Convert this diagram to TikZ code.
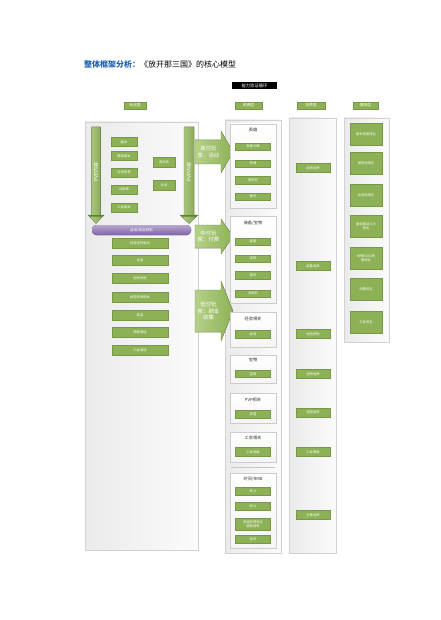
\documentclass[tikz,border=0pt]{standalone}
\usepackage{fontspec}
\setmainfont{Noto Sans CJK SC}
\usetikzlibrary{shadows}
\definecolor{gr}{HTML}{8DB255}
\definecolor{grd}{HTML}{5F7F35}
\definecolor{grl}{HTML}{B5D18A}
\definecolor{tblue}{HTML}{1F64B4}
\definecolor{purp}{HTML}{7E63A8}
\begin{document}
\begin{tikzpicture}[x=1pt,y=-1pt,
  gbox/.style={fill=gr, draw=gr!85!black, line width=0.2pt, text=white,
    font=\fontsize{3.3}{4}\selectfont, inner sep=0pt, align=center,
    general shadow={fill=black!50, shadow yshift=-0.9pt}},
  tag/.style={gbox, minimum height=7pt, font=\fontsize{3.8}{4.5}\selectfont},
  panel/.style={draw=gray!35, line width=0.3pt, left color=gray!16, right color=gray!3, inner sep=0pt},
  subpanel/.style={draw=gray!40, line width=0.3pt, top color=white, bottom color=gray!8, inner sep=0pt,
    general shadow={fill=black!22, shadow xshift=0.8pt, shadow yshift=-0.8pt}},
  phead/.style={font=\fontsize{4.2}{5}\selectfont, text=black!80, inner sep=0pt},
  bigarrow/.style={left color=grl, right color=gr, draw=gr!80!black, line width=0.2pt},
  atext/.style={text=white, font=\fontsize{5.4}{6.6}\selectfont, align=center, inner sep=0pt},
]
\useasboundingbox (0,0) rectangle (440,620);
\fill[white] (0,0) rectangle (440,620);

% title
\node[anchor=west, inner sep=0pt, font=\fontsize{8}{9}\selectfont] (title) at (84,64)
  {\textcolor{tblue}{\bfseries 整体框架分析：}《放开那三国》的核心模型};
\node[fill=black, text=white, inner sep=0pt, minimum width=45pt, minimum height=7pt,
  font=\fontsize{4.3}{5}\selectfont] (loop) at (254.5,85.5) {能力验证循环};

% column headers
\node[tag, minimum width=22pt] (h1) at (135,105.5) {玩法层};
\node[tag, minimum width=27pt] (h2) at (248.5,105.5) {资源层};
\node[tag, minimum width=28pt] (h3) at (311,105.5) {培养层};
\node[tag, minimum width=25pt] (h4) at (365.5,105.5) {展现层};

% panels
\node[panel, minimum width=113pt, minimum height=428pt] (play) at (141.5,336) {};
\node[panel, minimum width=56pt, minimum height=433pt] (res) at (253,336.5) {};
\node[panel, minimum width=47pt, minimum height=435pt] (cult) at (312.5,335.5) {};
\node[panel, minimum width=45pt, minimum height=224pt] (disp) at (366.5,230) {};

% vertical arrows in play layer
\fill[left color=grl, right color=gr!90!black, draw=gr!80!black, line width=0.2pt]
  (91.5,127) -- (100.5,127) -- (100.5,215) -- (104,215) -- (96,223.5) -- (88,215) -- (91.5,215) -- cycle;
\fill[grd] (88,215) -- (104,215) -- (102.5,216.5) -- (89.5,216.5) -- cycle;
\node[atext, rotate=90, font=\fontsize{5}{6}\selectfont] (pve) at (96,172) {PVE内容};
\fill[left color=grl, right color=gr!90!black, draw=gr!80!black, line width=0.2pt]
  (184,127) -- (194,127) -- (194,215) -- (198,215) -- (189,223.5) -- (180,215) -- (184,215) -- cycle;
\fill[grd] (180,215) -- (198,215) -- (196.5,216.5) -- (181.5,216.5) -- cycle;
\node[atext, rotate=90, font=\fontsize{5}{6}\selectfont] (pvp) at (189,172) {PVP内容};

% play boxes
\node[gbox, minimum width=26pt, minimum height=9pt] (a1) at (124,142) {副本};
\node[gbox, minimum width=26pt, minimum height=9pt] (a2) at (124,156) {精英副本};
\node[gbox, minimum width=26pt, minimum height=9pt] (a3) at (124,172.5) {过关斩将};
\node[gbox, minimum width=26pt, minimum height=9pt] (a4) at (124,189.5) {试炼塔};
\node[gbox, minimum width=26pt, minimum height=9pt] (a5) at (124,207.5) {工会副本};
\node[gbox, minimum width=22pt, minimum height=10pt] (b1) at (164,162.5) {竞技场};
\node[gbox, minimum width=22pt, minimum height=10pt] (b2) at (164,185.5) {比武};

% purple banner
\fill[top color=purp!55!white, bottom color=purp, rounded corners=4pt]
  (92,235) -- (92,225) -- (191,225) -- (191,235) -- cycle;
\node[text=white, font=\fontsize{3.6}{4}\selectfont, inner sep=0pt] (shop) at (141.5,230) {活动/商店获取};

\node[gbox, minimum width=56pt, minimum height=10pt] (c1) at (140,243) {经验宝物副本};
\node[gbox, minimum width=56pt, minimum height=10pt] (c2) at (140,260.5) {点金};
\node[gbox, minimum width=56pt, minimum height=10pt] (c3) at (140,278) {招将系统};
\node[gbox, minimum width=56pt, minimum height=10pt] (c4) at (140,297) {经验将领副本};
\node[gbox, minimum width=56pt, minimum height=10pt] (c5) at (140,315) {商店};
\node[gbox, minimum width=56pt, minimum height=10pt] (c6) at (140,332) {神秘商店};
\node[gbox, minimum width=56pt, minimum height=10pt] (c7) at (140,350) {工会商店};

% big horizontal arrows
\fill[bigarrow] (195,140) -- (221,140) -- (221,131) -- (233,152) -- (221,173) -- (221,164) -- (195,164) -- cycle;
\node[atext] (t1) at (208.5,152) {高付玩\\家：活动};
\fill[bigarrow] (195,225) -- (221,225) -- (221,219) -- (233,236.5) -- (221,254) -- (221,248) -- (195,248) -- cycle;
\node[atext] (t2) at (208.5,236.5) {中付玩\\家：付费};
\fill[bigarrow] (195,290) -- (221,290) -- (221,281) -- (233,311) -- (221,341) -- (221,332) -- (195,332) -- cycle;
\node[atext] (t3) at (208.5,311) {低付玩\\家：刷本\\收集};

% resource sub-panels
\node[subpanel, minimum width=46pt, minimum height=84pt] (r1) at (253,166) {};
\node[phead] at (253,129.5) {英雄};
\node[gbox, minimum width=35pt, minimum height=7.5pt] at (253,146.5) {英雄卡牌};
\node[gbox, minimum width=35pt, minimum height=7.5pt] at (253,163.5) {将魂};
\node[gbox, minimum width=35pt, minimum height=7.5pt] at (253,180) {进阶石};
\node[gbox, minimum width=35pt, minimum height=7.5pt] at (253,196.5) {银币};

\node[subpanel, minimum width=46pt, minimum height=87pt] (r2) at (253,259.5) {};
\node[phead] at (253,223) {装备/宝物};
\node[gbox, minimum width=35pt, minimum height=7.5pt] at (253,241.5) {装备};
\node[gbox, minimum width=35pt, minimum height=7.5pt] at (253,258.5) {宝物};
\node[gbox, minimum width=35pt, minimum height=7.5pt] at (253,275) {银币};
\node[gbox, minimum width=35pt, minimum height=7.5pt] at (253,293.5) {洗练石};

\node[subpanel, minimum width=46pt, minimum height=35pt] (r3) at (253,329.5) {};
\node[phead] at (253,319) {经验相关};
\node[gbox, minimum width=35pt, minimum height=8pt] at (253,334) {经验};

\node[subpanel, minimum width=46pt, minimum height=28pt] (r4) at (253,369) {};
\node[phead] at (253,360) {宝物};
\node[gbox, minimum width=35pt, minimum height=7pt] at (253,374) {宝物};

\node[subpanel, minimum width=46pt, minimum height=30pt] (r5) at (253,408) {};
\node[phead] at (253,400) {PVP相关};
\node[gbox, minimum width=35pt, minimum height=8pt] at (253,414) {声望};

\node[subpanel, minimum width=46pt, minimum height=30pt] (r6) at (253,447) {};
\node[phead] at (253,438) {工会相关};
\node[gbox, minimum width=35pt, minimum height=9pt] at (253,452) {工会贡献};

\draw[gray!45, line width=0.4pt] (231,467) -- (275,467);

\node[subpanel, minimum width=46pt, minimum height=75pt] (r7) at (253,510.5) {};
\node[phead] at (253,479) {时间/RMB};
\node[gbox, minimum width=35pt, minimum height=8pt] at (253,491) {体力};
\node[gbox, minimum width=35pt, minimum height=8pt] at (253,506.5) {耐力};
\node[gbox, minimum width=35pt, minimum height=12pt] at (253,524) {资源获得单位\\提高效率};
\node[gbox, minimum width=35pt, minimum height=8pt] at (253,539) {金币};

% cultivation boxes
\node[gbox, minimum width=34pt, minimum height=9pt] (k1) at (313,168) {武将培养};
\node[gbox, minimum width=34pt, minimum height=9pt] (k2) at (313,266) {装备培养};
\node[gbox, minimum width=34pt, minimum height=9pt] (k3) at (313,334) {经验获取};
\node[gbox, minimum width=34pt, minimum height=9pt] (k4) at (313,374) {宝物培养};
\node[gbox, minimum width=34pt, minimum height=9pt] (k5) at (313,412.5) {宝物培养};
\node[gbox, minimum width=34pt, minimum height=9pt] (k6) at (313,452) {工会等级};
\node[gbox, minimum width=34pt, minimum height=9pt] (k7) at (313,515) {主角培养};

% display boxes
\node[gbox, minimum width=32pt, minimum height=22pt] (d1) at (366,134) {副本进度排名};
\node[gbox, minimum width=32pt, minimum height=22pt] (d2) at (366,163.5) {竞技场排名};
\node[gbox, minimum width=32pt, minimum height=22pt] (d3) at (366,195) {比武场排名};
\node[gbox, minimum width=32pt, minimum height=22pt] (d4) at (366,226.5) {服务器战斗力\\排名};
\node[gbox, minimum width=32pt, minimum height=22pt] (d5) at (366,258.5) {世界BOSS伤\\害排名};
\node[gbox, minimum width=32pt, minimum height=22pt] (d6) at (366,289) {消费排名};
\node[gbox, minimum width=32pt, minimum height=22pt] (d7) at (366,322.5) {工会排名};
\end{tikzpicture}
\end{document}
